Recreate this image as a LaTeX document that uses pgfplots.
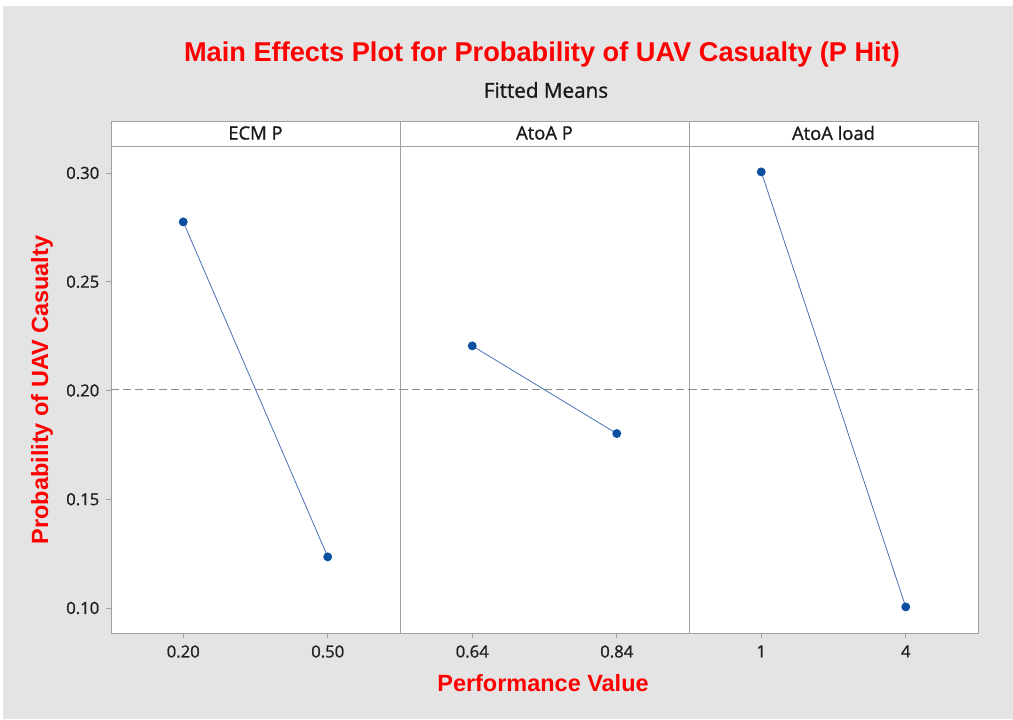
\documentclass[border=0pt]{standalone}
\usepackage{fontspec}
\setmainfont{Open Sans}
\newfontfamily\segfont{Open Sans}[FakeBold=1.0]
\newfontfamily\arialfont{Liberation Sans}
\usepackage{pgfplots}
\pgfplotsset{compat=1.18}
\definecolor{bg}{HTML}{E4E4E4}
\definecolor{framecol}{HTML}{A0A0A0}
\definecolor{dashcol}{HTML}{8C8C8C}
\definecolor{linecol}{HTML}{4A72B8}
\definecolor{markcol}{HTML}{0B4FA0}
\definecolor{titred}{HTML}{FF0000}
\begin{document}
\begin{tikzpicture}[x=0.75pt,y=0.75pt]
\fill[white] (0,0) rectangle (1013,719);
\fill[bg] (3,0) rectangle (1013,713);
\pgfplotsset{panel/.style={anchor=south west, scale only axis,
  width=216.75pt, height=365.25pt,
  xmin=-0.5, xmax=1.5, ymin=0.0885, ymax=0.3124,
  xtick={0,1},
  axis background/.style={fill=white},
  axis line style={framecol},
  tick style={framecol, line width=0.6pt},
  tick align=outside, major tick length=3.75pt,
  xtick pos=lower, ytick pos=left,
  tick label style={font=\segfont\fontsize{12.5}{14}\selectfont, text=black!88},
  /pgf/number format/assume math mode=true,
  xticklabel style={yshift=-2pt},
  yticklabel style={xshift=-1.5pt, /pgf/number format/fixed, /pgf/number format/fixed zerofill, /pgf/number format/precision=2},
  clip=false}}
\begin{axis}[panel, at={(83.25pt,64.5pt)}, xticklabels={0.20,0.50},
  ytick={0.10,0.15,0.20,0.25,0.30}]
\addplot[dashcol, line width=0.6pt, dash pattern=on 6pt off 3pt] coordinates {(-0.5,0.2005) (1.5,0.2005)};
\addplot[linecol, line width=0.6pt, mark=*, mark size=3pt, mark options={fill=markcol, draw=markcol}] coordinates {(0,0.2775) (1,0.1235)};
\end{axis}
\begin{axis}[panel, at={(300pt,64.5pt)}, xticklabels={0.64,0.84}, ytick=\empty]
\addplot[dashcol, line width=0.6pt, dash pattern=on 6pt off 3pt] coordinates {(-0.5,0.2005) (1.5,0.2005)};
\addplot[linecol, line width=0.6pt, mark=*, mark size=3pt, mark options={fill=markcol, draw=markcol}] coordinates {(0,0.2205) (1,0.1802)};
\end{axis}
\begin{axis}[panel, at={(516.75pt,64.5pt)}, xticklabels={1,4}, ytick=\empty]
\addplot[dashcol, line width=0.6pt, dash pattern=on 6pt off 3pt] coordinates {(-0.5,0.2005) (1.5,0.2005)};
\addplot[linecol, line width=0.6pt, mark=*, mark size=3pt, mark options={fill=markcol, draw=markcol}] coordinates {(0,0.3005) (1,0.1005)};
\end{axis}
% header strips
\draw[framecol, fill=white, line width=0.6pt] (111,573) rectangle (400,598);
\draw[framecol, fill=white, line width=0.6pt] (400,573) rectangle (689,598);
\draw[framecol, fill=white, line width=0.6pt] (689,573) rectangle (978,598);
\node[font=\segfont\fontsize{13.8}{15}\selectfont, text=black!90] at (255.5,586) {ECM P};
\node[font=\segfont\fontsize{13.8}{15}\selectfont, text=black!90] at (544.5,586) {AtoA P};
\node[font=\segfont\fontsize{13.8}{15}\selectfont, text=black!90] at (833.5,586) {AtoA load};
% titles
\node[font=\arialfont\bfseries\fontsize{20.4}{24}\selectfont, text=titred] at (542,665) {Main Effects Plot for Probability of UAV Casualty (P Hit)};
\node[font=\segfont\fontsize{15.5}{18}\selectfont, text=black!90] at (546,629) {Fitted Means};
\node[font=\arialfont\bfseries\fontsize{17.6}{20}\selectfont, text=titred, rotate=90] at (42,329) {Probability of UAV Casualty};
\node[font=\arialfont\bfseries\fontsize{17.6}{20}\selectfont, text=titred] at (543,36) {Performance Value};
\end{tikzpicture}
\end{document}
